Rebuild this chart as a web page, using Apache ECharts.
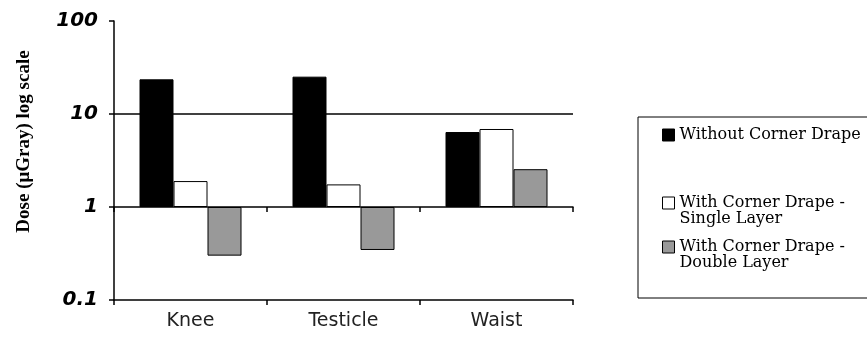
<!DOCTYPE html>
<html><head><meta charset="utf-8">
<script src="https://cdn.jsdelivr.net/npm/echarts@6/dist/echarts.min.js"></script>
<style>html,body{margin:0;padding:0;background:#fff}#c{width:867px;height:346px}</style>
</head><body><div id="c"></div>
<script>
const categories = ['Knee', 'Testicle', 'Waist'];
const seriesNames = ['Without Corner Drape', 'With Corner Drape - Single Layer', 'With Corner Drape - Double Layer'];
const legendLabels = ['Without Corner Drape', ' \nWith Corner Drape -\nSingle Layer', ' \nWith Corner Drape -\nDouble Layer'];
const withoutDrape = [23.6, 25.2, 6.4];
const singleLayer = [1.9, 1.75, 6.9];
const doubleLayer = [0.30, 0.345, 2.55];
const yTicks = [0.1, 1, 10, 100];
const yTickLabels = ['0.1', '1', '10', '100'];
const gridLines = [10];
const barColors = ['#000000', '#ffffff', '#999999'];
const yTitle = 'Dose (μGray) log scale';

const chart = echarts.init(document.getElementById('c'), null, {renderer: 'canvas'});
const legendText = {fontFamily: 'DejaVu Serif', fontSize: 16, lineHeight: 16, color: '#000'};
const fmt = name => legendLabels[seriesNames.indexOf(name)];
const legendCommon = {
  orient: 'vertical', itemWidth: 12, itemHeight: 12, icon: 'rect', selectedMode: false,
  itemStyle: {borderColor: '#000', borderWidth: 1}, formatter: fmt, textStyle: legendText
};
const option = {
  animation: false,
  backgroundColor: '#fff',
  grid: {left: 114, right: 294, top: 21, bottom: 46, containLabel: false},
  legend: [
    Object.assign({}, legendCommon, {
      left: 638, top: 117, padding: [10, 30, 155, 24], borderColor: '#000', borderWidth: 1,
      data: [seriesNames[0]]
    }),
    Object.assign({}, legendCommon, {
      left: 662, top: 179, padding: 0, data: [seriesNames[1]]
    }),
    Object.assign({}, legendCommon, {
      left: 662, top: 223, padding: 0, data: [seriesNames[2]]
    })
  ],
  xAxis: [
    {
      type: 'category', data: categories, position: 'bottom',
      axisLine: {lineStyle: {color: '#000', width: 1.5}},
      axisTick: {show: true, length: 5, lineStyle: {color: '#000', width: 1.5}},
      axisLabel: {margin: 12, fontFamily: 'DejaVu Sans', fontSize: 19, color: '#222'},
      splitLine: {show: false}
    },
    {
      type: 'category', data: categories, position: 'bottom', offset: -93,
      axisLine: {lineStyle: {color: '#000', width: 1.5}},
      axisTick: {show: true, length: 5, lineStyle: {color: '#000', width: 1.5}},
      axisLabel: {show: false},
      splitLine: {show: false}
    }
  ],
  yAxis: {
    type: 'log', logBase: 10, min: yTicks[0], max: yTicks[yTicks.length - 1],
    axisLine: {show: true, lineStyle: {color: '#000', width: 1.5}},
    axisTick: {show: true, length: 5, lineStyle: {color: '#000', width: 1.5}},
    splitLine: {show: false},
    axisLabel: {
      margin: 16, fontFamily: 'DejaVu Sans', fontStyle: 'italic', fontWeight: 'bold', fontSize: 20, color: '#000',
      formatter: v => {
        let best = 0;
        yTicks.forEach((t, i) => { if (Math.abs(Math.log10(t) - Math.log10(v)) < Math.abs(Math.log10(yTicks[best]) - Math.log10(v))) best = i; });
        return yTickLabels[best];
      }
    },
    name: '        ' + yTitle, nameLocation: 'middle', nameGap: 80,
    nameTextStyle: {fontFamily: 'Liberation Serif', fontWeight: 'bold', fontSize: 19, color: '#000'}
  },
  series: [withoutDrape, singleLayer, doubleLayer].map((vals, i) => ({
    type: 'bar', name: seriesNames[i], data: vals, xAxisIndex: 0,
    barWidth: 34, barGap: '0%',
    itemStyle: {color: barColors[i], borderColor: '#000', borderWidth: 1},
    markLine: i === 0 ? {
      silent: true, symbol: 'none', label: {show: false},
      lineStyle: {color: '#000', width: 1.5, type: 'solid'},
      data: gridLines.map(v => ({yAxis: v}))
    } : undefined
  }))
};
chart.setOption(option);
</script>
</body></html>
